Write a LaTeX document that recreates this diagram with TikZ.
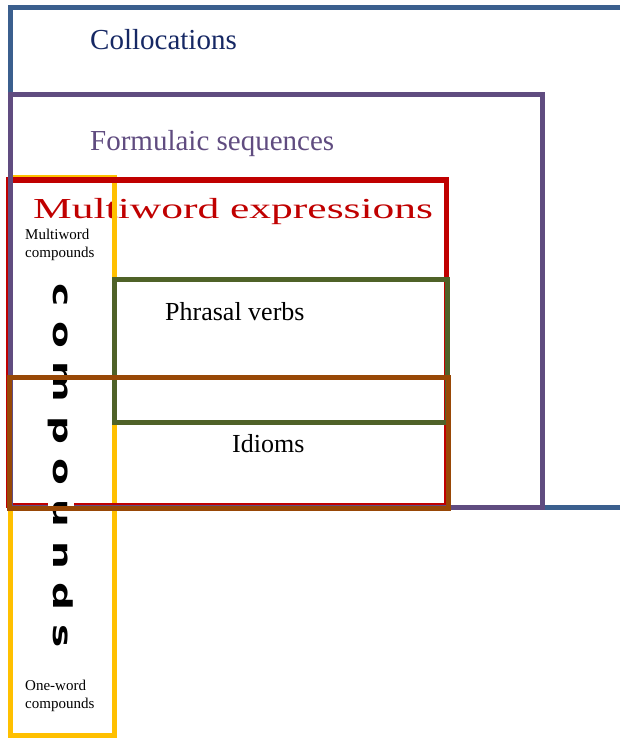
\documentclass[tikz,border=0pt]{standalone}
\usepackage{fontspec}
\setmainfont{Liberation Serif}
\newfontfamily\mwefont[FakeStretch=1.5]{Liberation Serif}
\newfontfamily\compfont[FakeStretch=1.5,LetterSpace=54]{DejaVu Sans Bold}
\definecolor{cblue}{RGB}{59,95,142}
\definecolor{cnavy}{RGB}{22,40,100}
\definecolor{cpurple}{RGB}{96,76,128}
\definecolor{cred}{RGB}{192,0,0}
\definecolor{cyellow}{RGB}{255,192,0}
\definecolor{cgreen}{RGB}{79,98,40}
\definecolor{cbrown}{RGB}{152,72,6}
\tikzset{
  frame/.style={line width=5pt, line join=miter},
  lbl/.style={inner sep=0pt, anchor=base west},
  small/.style={lbl, font=\fontsize{15}{18}\selectfont, align=left}
}
\begin{document}
\begin{tikzpicture}[x=1pt,y=-1pt]
\useasboundingbox (0,0) rectangle (619,738);
% Collocations (open to the right)
\draw[frame, cblue] (640,7.5) -- (10,7.5) -- (10,507.5) -- (640,507.5);
% texts under the frames
\node[lbl, text=cnavy, font=\fontsize{29}{32}\selectfont] (coll) at (90,50) {Collocations};
\node[lbl, text=cpurple, font=\fontsize{29}{32}\selectfont] (form) at (90,151) {Formulaic sequences};
\node[lbl, text=cred, font=\fontsize{29}{32}\mwefont] (mwe) at (33,218) {Multiword expressions};
% compounds
\draw[frame, cyellow] (10,178) rectangle (114.5,735.5);
% multiword expressions
\draw[frame, cred] (8,180) rectangle (446.5,505.5);
% formulaic sequences
\draw[frame, cpurple] (10.5,94.5) rectangle (542.5,507.5);
\node[small] (mwc) at (25,257) {Multiword\\compounds};
\node[small] (owc) at (25,708) {One-word\\compounds};
\node[lbl, font=\fontsize{26}{29}\selectfont] (pv) at (165,320) {Phrasal verbs};
\node[lbl, font=\fontsize{26}{29}\selectfont] (id) at (232,452) {Idioms};
\node[rotate=-90, fill=white, inner sep=0pt, font=\fontsize{26}{30}\compfont] (comp) at (61,466) {compounds};
% phrasal verbs
\draw[frame, cgreen] (114.5,279) rectangle (447,422);
% idioms
\draw[frame, cbrown] (9,377) rectangle (448,508);
\end{tikzpicture}
\end{document}
